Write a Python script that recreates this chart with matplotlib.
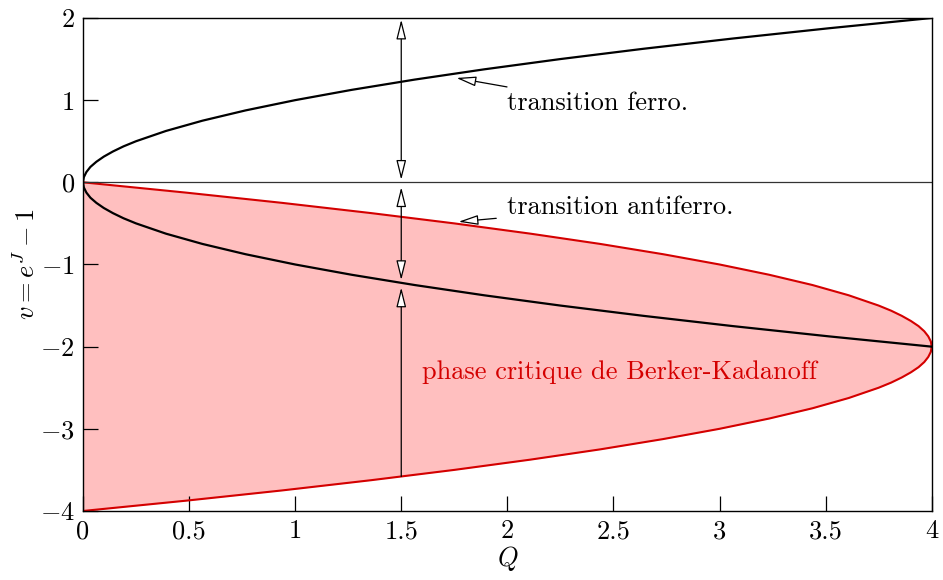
import matplotlib
matplotlib.use('Agg')
import matplotlib.pyplot as plt

# police type LaTeX
plt.rcParams['font.family'] = 'serif'
plt.rcParams['font.serif'] = ['cmr10']
plt.rcParams['mathtext.fontset'] = 'cm'
plt.rcParams['axes.formatter.use_mathtext'] = True

# transition ferro : v > 0
ferro_v = [0, 0.0625, 0.125, 0.1875, 0.25, 0.3125, 0.375, 0.4375, 0.5,
           0.625, 0.75, 0.875, 1.0, 1.125, 1.25, 1.375, 1.5,
           1.625, 1.75, 1.875, 2.0]
ferro_Q = [0, 0.004, 0.016, 0.035, 0.063, 0.098, 0.141, 0.191, 0.25,
           0.391, 0.563, 0.766, 1.0, 1.266, 1.563, 1.891, 2.25,
           2.641, 3.063, 3.516, 4.0]

# transition antiferro : v < 0
antiferro_v = [0, -0.0625, -0.125, -0.1875, -0.25, -0.3125, -0.375, -0.4375, -0.5,
               -0.625, -0.75, -0.875, -1.0, -1.125, -1.25, -1.375, -1.5,
               -1.625, -1.75, -1.875, -2.0]
antiferro_Q = [0, 0.004, 0.016, 0.035, 0.063, 0.098, 0.141, 0.191, 0.25,
               0.391, 0.563, 0.766, 1.0, 1.266, 1.563, 1.891, 2.25,
               2.641, 3.063, 3.516, 4.0]

# bord de la phase de Berker-Kadanoff
bk_v = [0, -0.125, -0.25, -0.375, -0.5, -0.625, -0.75, -0.875, -1.0,
        -1.125, -1.25, -1.375, -1.5, -1.5625, -1.625, -1.6875, -1.75,
        -1.8125, -1.875, -1.9375, -2.0, -2.0625, -2.125, -2.1875, -2.25,
        -2.3125, -2.375, -2.4375, -2.5, -2.625, -2.75, -2.875, -3.0,
        -3.125, -3.25, -3.375, -3.5, -3.625, -3.75, -3.875, -4.0]
bk_Q = [0, 0.484, 0.938, 1.359, 1.75, 2.109, 2.438, 2.734, 3.0,
        3.234, 3.438, 3.609, 3.75, 3.809, 3.859, 3.902, 3.938,
        3.965, 3.984, 3.996, 4.0, 3.996, 3.984, 3.965, 3.938,
        3.902, 3.859, 3.809, 3.75, 3.609, 3.438, 3.234, 3.0,
        2.734, 2.438, 2.109, 1.75, 1.359, 0.938, 0.484, 0]

# fleches verticales a Q = 1.5 : (v debut, v fin, style)
arrow_Q = 1.5
arrow_segments = [(1.98, 0.03, '<|-|>'),
                  (-0.06, -1.19, '<|-|>'),
                  (-3.58, -1.28, '-|>')]

rouge = '#d40000'
rose = '#ffbfbf'
fs = 19

fig = plt.figure(figsize=(9.43, 5.8), dpi=100)
ax = fig.add_axes([0.088, 0.119, 0.900, 0.850])

ax.fill_betweenx(bk_v, 0, bk_Q, color=rose, lw=0)
ax.plot(bk_Q, bk_v, color=rouge, lw=1.5)
ax.axhline(0, color='#333333', lw=0.9)
ax.plot(ferro_Q, ferro_v, color='black', lw=1.6)
ax.plot(antiferro_Q, antiferro_v, color='black', lw=1.6)

for v0, v1, style in arrow_segments:
    ax.annotate('', xy=(arrow_Q, v1), xytext=(arrow_Q, v0),
                arrowprops=dict(arrowstyle=style + ',head_length=0.6,head_width=0.15',
                                mutation_scale=20, fc='white', ec='black',
                                lw=0.9, shrinkA=0, shrinkB=0))

#annotations
ax.annotate('transition ferro.', xy=(1.76, 1.27), xytext=(2.0, 0.965),
            fontsize=fs, va='center', ha='left',
            arrowprops=dict(arrowstyle='-|>,head_length=0.6,head_width=0.15',
                            mutation_scale=20, fc='white', ec='black',
                            lw=0.9, shrinkA=6, shrinkB=0))
ax.annotate('transition antiferro.', xy=(1.77, -0.48), xytext=(2.0, -0.30),
            fontsize=fs, va='center', ha='left',
            arrowprops=dict(arrowstyle='-|>,head_length=0.6,head_width=0.15',
                            mutation_scale=20, fc='white', ec='black',
                            lw=0.9, shrinkA=6, shrinkB=0))
ax.text(1.6, -2.31, 'phase critique de Berker-Kadanoff', color=rouge,
        fontsize=fs, va='center', ha='left')

ax.set_xlim(0, 4)
ax.set_ylim(-4, 2)
ax.set_xticks([0, 0.5, 1, 1.5, 2, 2.5, 3, 3.5, 4])
ax.set_xticklabels(['0', '0.5', '1', '1.5', '2', '2.5', '3', '3.5', '4'])
ax.set_yticks([-4, -3, -2, -1, 0, 1, 2])
ax.tick_params(direction='in', length=11, width=0.9, labelsize=fs, pad=6)
for s in ax.spines.values():
    s.set_linewidth(1.0)

ax.set_xlabel(r'$Q$', fontsize=fs, labelpad=1)
ax.set_ylabel(r'$v = e^J - 1$', fontsize=fs, labelpad=0)

fig.savefig('out.png', dpi=100)
